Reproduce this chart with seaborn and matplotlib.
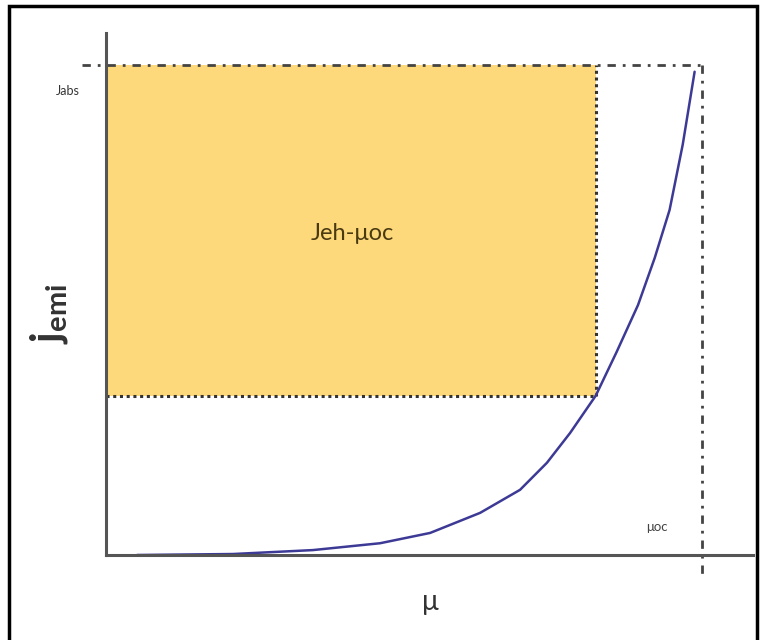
import matplotlib
matplotlib.use("Agg")
import matplotlib.pyplot as plt
from matplotlib.patches import Rectangle
import seaborn as sns
import pandas as pd

# Emission current vs chemical potential (normalised: mu_oc = 1, j_abs = 1)
mu_values = [0.052, 0.213, 0.347, 0.460, 0.544, 0.628, 0.695, 0.740,
             0.779, 0.822, 0.857, 0.893, 0.921, 0.946, 0.968, 0.988]
j_values = [0.000, 0.002, 0.010, 0.024, 0.045, 0.086, 0.133, 0.188,
            0.249, 0.325, 0.414, 0.510, 0.606, 0.704, 0.837, 0.986]

# Operating point (corner of the power rectangle)
mu_point = 0.822
j_point = 0.325

# Reference levels
j_abs = 1.0
mu_oc = 1.0

label_j_abs = "Jabs"
label_mu_oc = "\u03bcoc"
label_area = "Jeh-\u03bcoc"
label_x = "\u03bc"

sns.set_style("white")
plt.rcParams["font.family"] = ["Lato", "DejaVu Sans"]

W, H = 765, 640
fig = plt.figure(figsize=(W / 100, H / 100), dpi=100)
fig.patch.set_facecolor("white")

ax_left, ax_right, ax_bottom, ax_top = 106, 753, 555, 33
ax = fig.add_axes([ax_left / W, (H - ax_bottom) / H,
                   (ax_right - ax_left) / W, (ax_bottom - ax_top) / H])
ax.set_xlim(0, 1.086)
ax.set_ylim(0, 1.065)
ax.set_facecolor("none")

# Shaded power rectangle
ax.add_patch(Rectangle((0, j_point), mu_point, j_abs - j_point,
                       facecolor="#FDD97C", edgecolor="none", zorder=1))
ax.plot([0, mu_point], [j_point, j_point], linestyle=(0, (1, 1.2)),
        color="#333333", lw=2.2, zorder=2)
ax.plot([mu_point, mu_point], [j_point, j_abs], linestyle=(0, (1, 1.2)),
        color="#333333", lw=2.2, zorder=2)

# Dash-dot guides for j_abs and mu_oc
ax.plot([-0.040, mu_oc], [j_abs, j_abs], linestyle=(0, (3, 2.5, 1, 2.5)),
        color="#444444", lw=2, clip_on=False, zorder=3)
ax.plot([mu_oc, mu_oc], [j_abs, -0.05], linestyle=(0, (3, 2.5, 1, 2.5)),
        color="#444444", lw=2, clip_on=False, zorder=3)

# Emission curve
df = pd.DataFrame({"mu": mu_values, "j": j_values})
sns.lineplot(data=df, x="mu", y="j", ax=ax, color="#3d3a96", lw=1.8,
             zorder=4, sort=True)

# Axes
for side in ["top", "right"]:
    ax.spines[side].set_visible(False)
for side in ["left", "bottom"]:
    ax.spines[side].set_color("#555555")
    ax.spines[side].set_linewidth(2.2)
    ax.spines[side].set_zorder(5)
ax.set_xticks([])
ax.set_yticks([])
ax.set_xlabel("")
ax.set_ylabel("")

# Labels
fig.text(68 / W, 1 - 91 / H, label_j_abs, ha="center", va="center",
         fontsize=9, color="#333333")
fig.text(352 / W, 1 - 233 / H, label_area, ha="center", va="center",
         fontsize=17, color="#4a3a12")
fig.text(657 / W, 1 - 527 / H, label_mu_oc, ha="center", va="center",
         fontsize=9.5, color="#444444")
fig.text(430 / W, 1 - 602 / H, label_x, ha="center", va="center",
         fontsize=20, color="#333333")
fig.text(49 / W, 1 - 314 / H, r"j$_{\mathregular{emi}}$", ha="center",
         va="center", fontsize=30, rotation=90, color="#333333",
         fontweight="bold")

# Outer frame (runs past the bottom edge)
fig.patches.append(Rectangle((9 / W, -0.05), (757 - 9) / W, 1.05 - 6 / H,
                             transform=fig.transFigure, fill=False,
                             edgecolor="black", lw=2.5))

fig.savefig("out.png", dpi=100)
